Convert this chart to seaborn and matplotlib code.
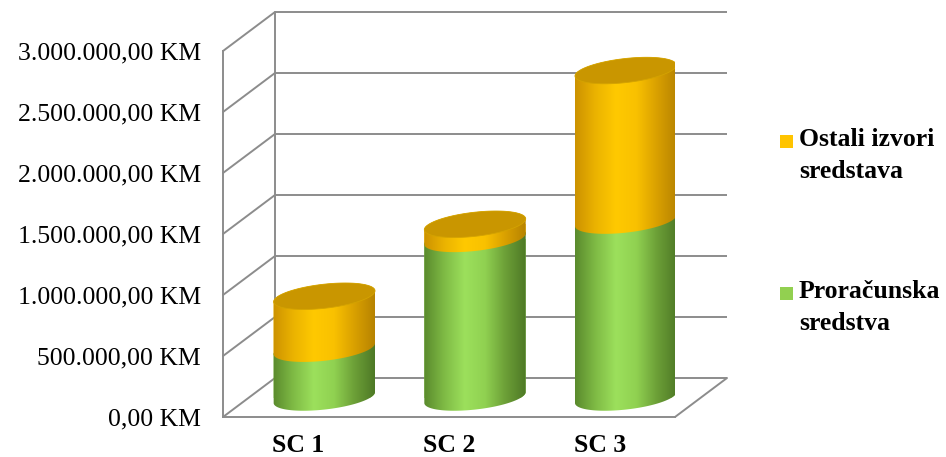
import numpy as np
import pandas as pd
import matplotlib
matplotlib.use("Agg")
import matplotlib.pyplot as plt
import matplotlib.transforms as mtrans
import seaborn as sns
from matplotlib.patches import Polygon, Rectangle
from matplotlib.colors import LinearSegmentedColormap

# data
categories = ["SC 1", "SC 2", "SC 3"]
proracunska = [400000, 1300000, 1450000]
ostali = [430000, 120000, 1230000]
series_labels = ["Ostali izvori\nsredstava", "Proračunska\nsredstva"]
yticks = [0, 500000, 1000000, 1500000, 2000000, 2500000, 3000000]

GRID = "#8c8c8c"
LW = 1.4
YELLOW = "#ffc400"
GREEN = "#92d050"
CAP = "#c99600"
DEPTH_PX = (52, 39)      # floor depth in pixels (dx right, dy up)
BAR_W = 0.677
ELL_A = 51               # ellipse half axes in pixels
ELL_B = 12
ELL_ANG = np.deg2rad(6.5)
FS = 18.5

green_cmap = LinearSegmentedColormap.from_list(
    "g", ["#5a8a2d", "#7fbb45", "#9ce05c", "#90d151", "#6c9f37", "#4e7926"])
yellow_cmap = LinearSegmentedColormap.from_list(
    "y", ["#cc9200", "#ebb300", "#ffc900", "#f9c100", "#d9a000", "#b78300"])


def fmt_km(v):
    s = f"{v:,.2f}".replace(",", "X").replace(".", ",").replace("X", ".")
    return s + " KM"


def main():
    sns.set_theme(style="white")
    plt.rcParams["font.family"] = ["Liberation Serif", "DejaVu Serif"]

    fig = plt.figure(figsize=(9.46, 4.57), dpi=100)
    ax = fig.add_axes([223 / 946, 40 / 457, 452 / 946, 366 / 457])

    df = pd.DataFrame({"kat": categories, "green": proracunska,
                       "total": np.array(proracunska) + np.array(ostali)})

    sns.barplot(data=df, x="kat", y="total", color=YELLOW, saturation=1,
                width=BAR_W, linewidth=0, ax=ax, zorder=3)
    sns.barplot(data=df, x="kat", y="green", color=GREEN, saturation=1,
                width=BAR_W, linewidth=0, ax=ax, zorder=4)
    bars = list(ax.patches)

    ax.set_xlim(-0.5, 2.5)
    ax.set_ylim(0, 3000000)
    ax.autoscale(False)

    dpi = fig.dpi
    mid = ax.transData + mtrans.ScaledTranslation(
        DEPTH_PX[0] / 2 / dpi, DEPTH_PX[1] / 2 / dpi, fig.dpi_scale_trans)
    back = ax.transData + mtrans.ScaledTranslation(
        DEPTH_PX[0] / dpi, DEPTH_PX[1] / dpi, fig.dpi_scale_trans)

    # pixel -> data scale
    p0 = ax.transData.transform((0, 0))
    px_x = ax.transData.transform((1, 0))[0] - p0[0]
    px_y = ax.transData.transform((0, 1000000))[1] - p0[1]
    ddx = DEPTH_PX[0] / px_x
    ddy = DEPTH_PX[1] / px_y * 1000000

    # back wall, floor and gridlines
    ax.hlines(yticks, -0.5, 2.5, colors=GRID, lw=LW, transform=back,
              clip_on=False, zorder=1)
    for v in yticks:
        ax.plot([-0.5, -0.5 + ddx], [v, v + ddy], color=GRID, lw=LW,
                clip_on=False, zorder=1)
    ax.plot([-0.5 + ddx, -0.5 + ddx], [ddy, 3000000 + ddy], color=GRID,
            lw=LW, clip_on=False, zorder=1)
    ax.plot([2.5, 2.5 + ddx], [0, ddy], color=GRID, lw=LW, clip_on=False,
            zorder=1)

    def ell_pts(xc, yc, t):
        dxp = ELL_A * np.cos(t) * np.cos(ELL_ANG) - ELL_B * np.sin(t) * np.sin(ELL_ANG)
        dyp = ELL_A * np.cos(t) * np.sin(ELL_ANG) + ELL_B * np.sin(t) * np.cos(ELL_ANG)
        return np.column_stack([xc + dxp / px_x, yc + dyp / px_y * 1000000])

    def body(xc, y0, y1, z):
        lower = ell_pts(xc, y0, np.linspace(np.pi, 2 * np.pi, 80))
        upper = ell_pts(xc, y1, np.linspace(0, np.pi, 80))
        poly = Polygon(np.vstack([lower, upper]), closed=True, transform=mid,
                       facecolor="none", edgecolor="none", zorder=z)
        ax.add_patch(poly)
        return poly

    grad = np.linspace(0, 1, 256).reshape(1, -1)
    half = ELL_A / px_x
    pad = 150000

    def shade(clip, cmap, xc, y0, y1, z):
        im = ax.imshow(grad, cmap=cmap, aspect="auto", interpolation="bilinear",
                       extent=[xc - half, xc + half, y0 - pad, y1 + pad],
                       transform=mid, zorder=z)
        im.set_clip_path(clip)

    totals = df["total"].values
    for i, bar in enumerate(bars):
        xc = bar.get_x() + bar.get_width() / 2
        top = bar.get_height()
        if i < 3:
            clip = body(xc, proracunska[i], top, 3)
            shade(clip, yellow_cmap, xc, proracunska[i], top, 3.1)
        else:
            clip = body(xc, 0, top, 4)
            shade(clip, green_cmap, xc, 0, top, 4.1)
        bar.set_transform(mid)
        bar.set_clip_path(clip)

    # yellow body must sit above green body
    for im in ax.images[:3]:
        im.set_zorder(5)
    for i in range(3):
        cap = ell_pts(i, totals[i], np.linspace(0, 2 * np.pi, 120))
        ax.add_patch(Polygon(cap, closed=True, transform=mid, facecolor=CAP,
                             edgecolor="#d4a300", lw=0.6, zorder=6))

    # axes styling
    for side in ["top", "right"]:
        ax.spines[side].set_visible(False)
    for side in ["left", "bottom"]:
        ax.spines[side].set_color(GRID)
        ax.spines[side].set_linewidth(LW)
        ax.spines[side].set_zorder(2)
    ax.set_yticks(yticks)
    ax.set_yticklabels([fmt_km(v) for v in yticks], fontsize=FS, color="black")
    ax.set_xticks(range(len(categories)))
    ax.set_xticklabels(categories, fontsize=FS, fontweight="bold", color="black")
    ax.tick_params(axis="y", length=0, pad=16)
    ax.tick_params(axis="x", length=0, pad=12)
    ax.set_xlabel("")
    ax.set_ylabel("")
    ax.grid(False)

    # legend (drawn by hand to keep the Excel layout)
    leg_colors = [YELLOW, GREEN]
    leg_tops = [135, 287]
    for lab, col, top in zip(series_labels, leg_colors, leg_tops):
        fig.patches.append(Rectangle((780, 457 - top - 13), 13, 13,
                                     transform=None, facecolor=col,
                                     edgecolor="none"))
        for k, line in enumerate(lab.split("\n")):
            fig.text(799 / 946, 1 - (top + 11 + k * 32) / 457, line,
                     fontsize=FS, fontweight="bold", va="baseline",
                     ha="left", color="black")

    fig.savefig("out.png", dpi=100, facecolor="white")


if __name__ == "__main__":
    main()
